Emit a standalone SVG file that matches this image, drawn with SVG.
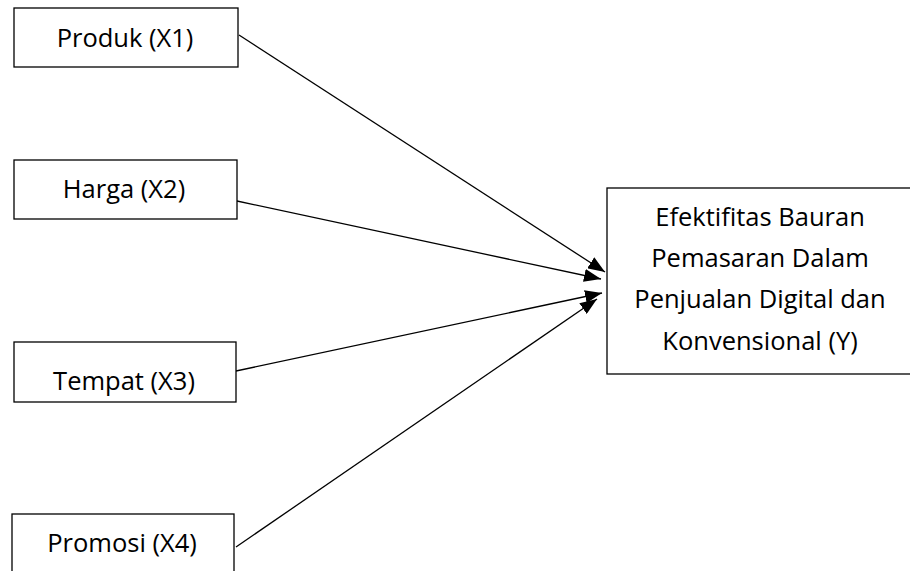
<svg xmlns="http://www.w3.org/2000/svg" width="910" height="571" viewBox="0 0 910 571">
<defs>
<style>
.box{fill:#fff;stroke:#000;stroke-width:1.3}
.t{font-family:"Open Sans","Liberation Sans",sans-serif;font-size:25.5px;fill:#000;text-anchor:middle}
.c{stroke:#000;stroke-width:1.3;fill:none;marker-end:url(#ah)}
</style>
<marker id="ah" viewBox="0 0 17 13" refX="17" refY="6.5" markerWidth="17" markerHeight="13" markerUnits="userSpaceOnUse" orient="auto">
<path d="M0,0 L17,6.5 L0,13 Z" fill="#000"/>
</marker>
</defs>
<rect width="910" height="571" fill="#fff"/>
<g id="connectors">
<line class="c" x1="239" y1="35" x2="605" y2="272"/>
<line class="c" x1="237" y1="201" x2="601" y2="279"/>
<line class="c" x1="236" y1="371" x2="602" y2="293"/>
<line class="c" x1="236" y1="547" x2="597" y2="299"/>
</g>
<g id="x1">
<rect class="box" x="14" y="8" width="224" height="59"/>
<text class="t" x="125" y="47">Produk (X1)</text>
</g>
<g id="x2">
<rect class="box" x="14" y="160" width="223" height="59"/>
<text class="t" x="124" y="198">Harga (X2)</text>
</g>
<g id="x3">
<rect class="box" x="14" y="342" width="222" height="60"/>
<text class="t" x="124" y="390">Tempat (X3)</text>
</g>
<g id="x4">
<rect class="box" x="12" y="514" width="222" height="70"/>
<text class="t" x="122" y="552">Promosi (X4)</text>
</g>
<g id="y">
<rect class="box" x="607" y="188" width="310" height="186"/>
<text class="t" x="760" y="226">Efektifitas Bauran</text>
<text class="t" x="760" y="267">Pemasaran Dalam</text>
<text class="t" x="760" y="308">Penjualan Digital dan</text>
<text class="t" x="760" y="350">Konvensional (Y)</text>
</g>
</svg>
